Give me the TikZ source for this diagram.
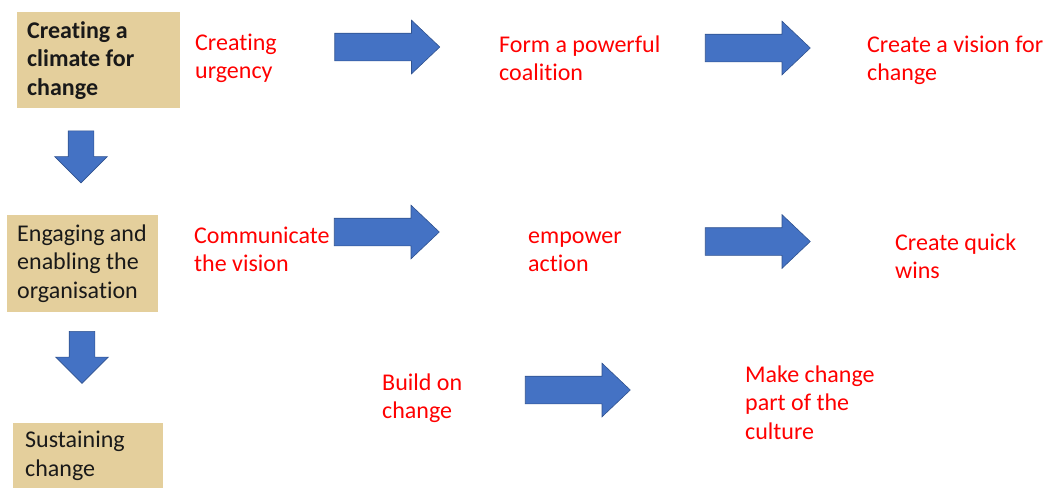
\documentclass[tikz,border=0pt]{standalone}
\usepackage{fontspec}
\setmainfont{Carlito}[Ligatures=NoCommon]
\usepackage{xcolor}
\usetikzlibrary{shapes.arrows}

\definecolor{papyrus}{RGB}{228,207,156}
\definecolor{arrowblue}{HTML}{4472C4}
\definecolor{arrowedge}{HTML}{2F528F}
\definecolor{labelred}{RGB}{255,0,0}

\tikzset{
    phase/.style={fill=papyrus, anchor=north west, align=flush left, inner xsep=10pt, inner ysep=0pt,
        font=\fontsize{24}{28.5}\selectfont, text=black!90},
    todo/.style={anchor=base west, align=flush left, inner sep=0pt, text=labelred,
        font=\fontsize{24}{28.5}\selectfont},
    blockarrow/.style={single arrow, fill=arrowblue, draw=arrowedge, line width=0.6pt,
        inner xsep=0pt, inner ysep=13.5pt, minimum height=105pt,
        single arrow head extend=13pt, single arrow tip angle=87},
    downarrow/.style={blockarrow, shape border rotate=270, minimum height=52pt,
        inner xsep=12.5pt, inner ysep=0pt,
        single arrow head extend=13.5pt, single arrow tip angle=90}
}

\begin{document}
\begin{tikzpicture}[x=1pt, y=-1pt]
                    \useasboundingbox (0, 0) rectangle (1045, 488);

                    % the three phases
                    \node[phase, minimum width=163pt, minimum height=96pt, text width=143pt, font=\fontsize{24}{28.5}\selectfont\bfseries]
                        (climate) at (17, 12) {Creating a\\climate for\\change};
                    \node[phase, minimum width=151pt, minimum height=97pt, text width=131pt]
                        (engaging) at (7, 215) {Engaging and\\enabling the\\organisation};
                    \node[phase, minimum width=150pt, minimum height=65pt, text width=126pt, inner xsep=12pt]
                        (sustaining) at (13, 423) {Sustaining\\change};

                    % the eight steps (placed by the baseline of their last line)
                    \node[todo] (urgency) at (195, 78.5) {Creating\\urgency};
                    \node[todo] (coalition) at (499, 80.5) {Form a powerful\\coalition};
                    \node[todo] (vision) at (867, 80.5) {Create a vision for\\change};
                    \node[todo] (communicate) at (194, 271.5) {Communicate\\the vision};
                    \node[todo] (empower) at (528, 271.5) {empower\\action};
                    \node[todo] (wins) at (895, 278.5) {Create quick\\wins};
                    \node[todo] (build) at (382, 418.5) {Build on\\change};
                    \node[todo] (culture) at (745, 439) {Make change\\part of the\\culture};

                    % block arrows, centre of the shaft end given
                    \foreach \name/\x/\y in {urgencyarr/380/47, coalitionarr/750.5/48, communicatearr/379.5/232,
                                             empowerarr/750.5/241.5, buildarr/570.5/390} {
                        \node[blockarrow] (\name) at (\x, \y) {};
                    }

                    \foreach \name/\x/\y in {climatearr/81/150.5, engagingarr/82/351} {
                        \node[downarrow] (\name) at (\x, \y) {};
                    }
                \end{tikzpicture}
\end{document}
